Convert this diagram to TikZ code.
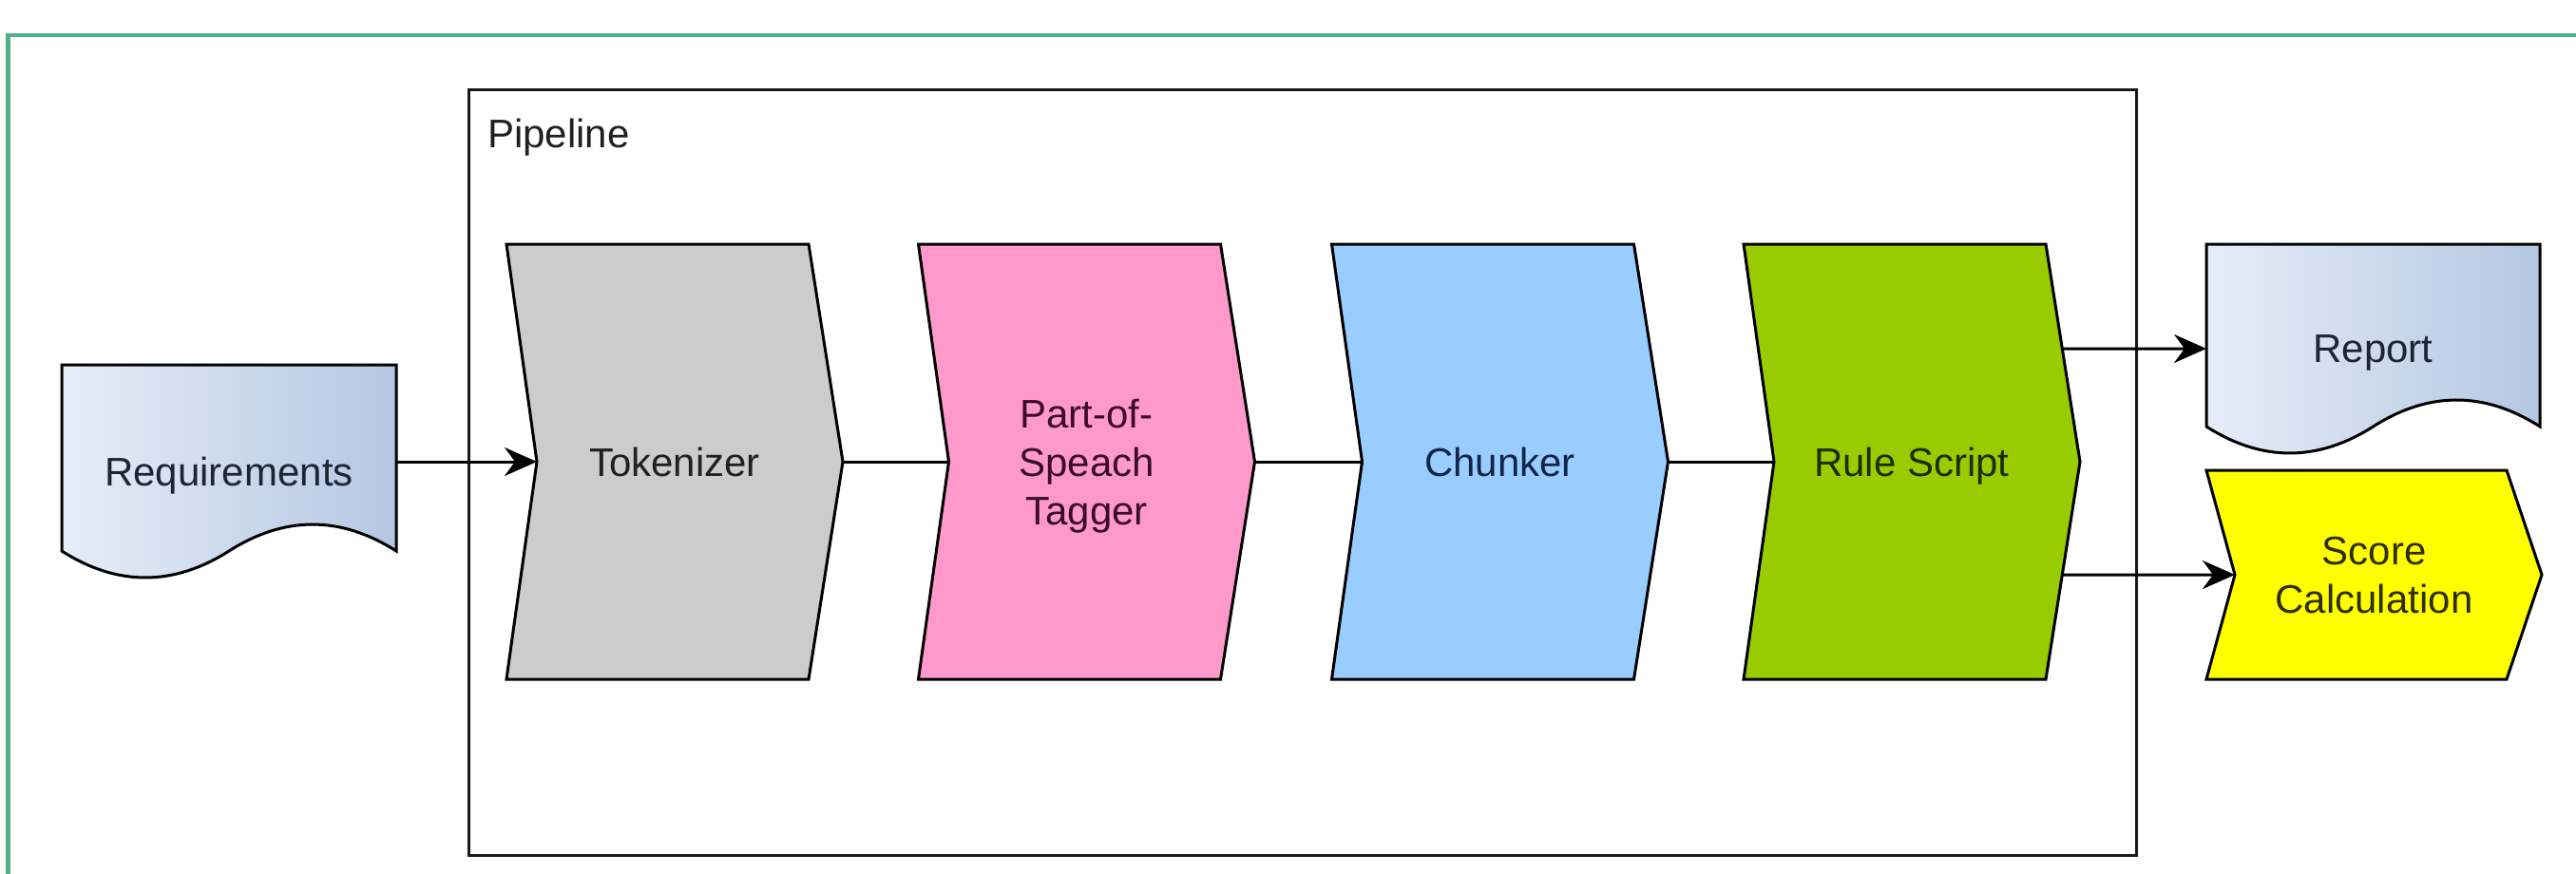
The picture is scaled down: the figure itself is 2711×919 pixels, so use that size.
\documentclass[tikz,border=0pt]{standalone}
\usepackage{fontspec}
\setmainfont{Liberation Sans}
\usetikzlibrary{calc,arrows.meta,intersections}
\pgfdeclarelayer{bg}
\pgfsetlayers{bg,main}

\definecolor{frameGreen}{RGB}{80,176,137}
\definecolor{tokGray}{RGB}{204,204,204}
\definecolor{posPink}{RGB}{255,153,204}
\definecolor{chunkBlue}{RGB}{153,204,255}
\definecolor{ruleGreen}{RGB}{153,204,0}
\definecolor{scoreYellow}{RGB}{255,255,0}
\definecolor{docLight}{RGB}{230,237,247}
\definecolor{docDark}{RGB}{180,199,226}
\definecolor{tokText}{RGB}{32,32,32}
\definecolor{posText}{RGB}{58,12,40}
\definecolor{chunkText}{RGB}{16,38,72}
\definecolor{ruleText}{RGB}{26,46,0}
\definecolor{scoreText}{RGB}{46,46,0}
\definecolor{docText}{RGB}{28,36,54}

\tikzset{
  box/.style={inner sep=0pt, outer sep=0pt, align=center, text depth=0pt,
              font=\fontsize{42}{51}\selectfont},
  stage/.style={box, minimum width=354pt, minimum height=458pt},
  docnode/.style={box, minimum width=351pt, minimum height=220pt, text=docText},
  outline/.style={draw=black, line width=3pt, line join=miter},
  link/.style={draw=black, line width=3pt},
  arrowlink/.style={link, -{Stealth[length=34pt,width=30pt,inset=11pt]}},
}

% step shape: flat top/bottom, pointed right side, notched left side
\newcommand\stageshape[4]{%
  \draw[outline, fill=#2] (#1.north west) -- ([xshift=-#3pt]#1.north east)
    -- (#1.east) -- ([xshift=-#3pt]#1.south east) -- (#1.south west)
    -- ([xshift=#4pt]#1.west) -- cycle;}

% document shape with a wavy lower edge
\newcommand\docshape[1]{%
  \draw[outline, left color=docLight, right color=docDark]
    (#1.north west) -- (#1.north east) -- ($(#1.south east)+(0,-28)$)
    .. controls ($(#1.south east)+(-58.5,-65.3)$) and ($(#1.south)+(58.5,-65.3)$)
    .. ($(#1.south)+(0,-28)$)
    .. controls ($(#1.south)+(-58.5,9.3)$) and ($(#1.south west)+(58.5,9.3)$)
    .. ($(#1.south west)+(0,-28)$) -- cycle;}

\begin{document}
\begin{tikzpicture}[x=1pt,y=-1pt]
\useasboundingbox (0,0) rectangle (2711,919);

% ---- nodes ----
\node[box, draw=none, minimum width=1755pt, minimum height=806pt] (pipe) at (1370.5,497) {};
\node[box, anchor=base west, text=tokText] (pipeLabel) at (513,155) {Pipeline};

\node[docnode, minimum width=352pt, minimum height=224pt] (req) at (241,496) {Requirements};
\node[stage, text=tokText]   (tok)   at (710,486)    {Tokenizer};
\node[stage, text=posText]   (pos)   at (1143.5,486) {Part-of-\\Speach\\Tagger};
\node[stage, text=chunkText] (chunk) at (1578.5,486) {Chunker};
\node[stage, text=ruleText]  (rule)  at (2012,486)   {Rule Script};
\node[docnode] (report) at (2497.5,367) {Report};
\node[box, minimum width=353pt, minimum height=220pt, text=scoreText] (score) at (2498.5,605) {Score\\Calculation};

% ---- shapes behind the labels ----
\begin{pgfonlayer}{bg}
  \fill[white] (0,0) rectangle (2711,919);
  \begin{scope}
    \clip (0,0) rectangle (2711,919);
    \draw[frameGreen, line width=4.5pt, line join=miter] (8.5,940) -- (8.5,37) -- (2730,37);
  \end{scope}
  \draw[black!90, line width=3pt] (pipe.north west) rectangle (pipe.south east);
  \docshape{req}
  \docshape{report}
  \stageshape{tok}{tokGray}{36}{32}
  \stageshape{pos}{posPink}{36}{32}
  \stageshape{chunk}{chunkBlue}{36}{32}
  \stageshape{rule}{ruleGreen}{36}{32}
  \stageshape{score}{scoreYellow}{37}{30}
\end{pgfonlayer}

% ---- connectors ----
\draw[arrowlink] (req.east |- tok.west) -- ([xshift=32pt]tok.west);
\draw[link] (tok.east) -- ([xshift=32pt]pos.west);
\draw[link] (pos.east) -- ([xshift=32pt]chunk.west);
\draw[link] (chunk.east) -- ([xshift=32pt]rule.west);

\path[name path=ruleRight] ([xshift=-36pt]rule.north east) -- (rule.east) -- ([xshift=-36pt]rule.south east);
\path[name path=toReport] (rule.center |- report.west) -- (report.west);
\path[name path=toScore] (rule.center |- score.west) -- (score.west);
\path[name intersections={of=ruleRight and toReport, by={outA}}];
\path[name intersections={of=ruleRight and toScore, by={outB}}];
\draw[arrowlink] (outA) -- (report.west);
\draw[arrowlink] (outB) -- ([xshift=30pt]score.west);
\end{tikzpicture}
\end{document}
